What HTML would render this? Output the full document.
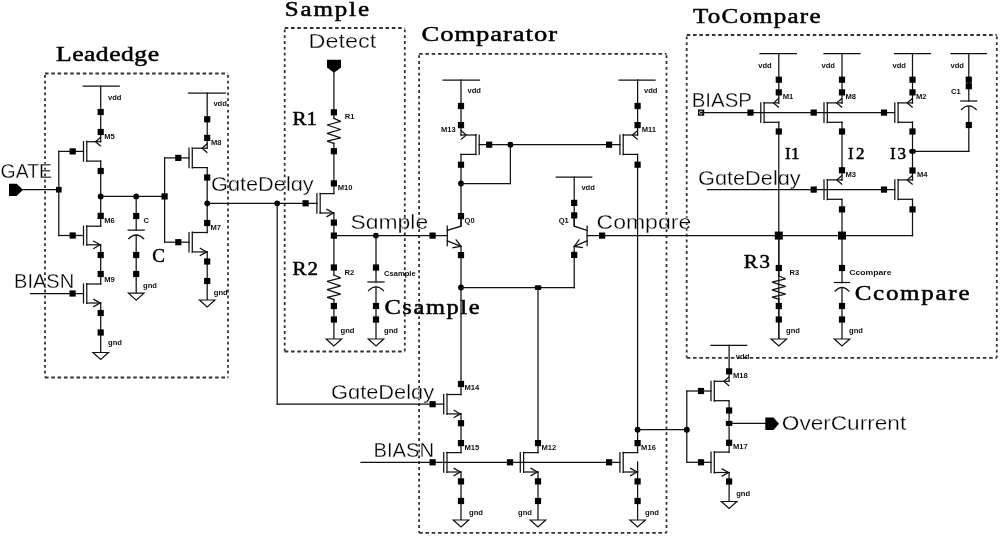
<!DOCTYPE html>
<html><head><meta charset="utf-8"><title>Schematic</title>
<style>
html,body{margin:0;padding:0;background:#fff;}
body{width:1000px;height:539px;overflow:hidden;}
svg{display:block;will-change:transform;}
.w line,.w polyline,.w path{stroke:#111;stroke-width:1.25;fill:none;stroke-linecap:square;stroke-miterlimit:2.5;}
.w .k{fill:#000;stroke:none;}
.w .g{fill:#fff;stroke:#111;stroke-width:1.2;}
.b line{stroke:#333;stroke-width:1.8;}
.b .dh{stroke-dasharray:3.6 2.7;}
.b .dv{stroke-dasharray:2.8 3.0;stroke-dashoffset:-1.5;}
text{font-family:"Liberation Sans",sans-serif;}
.s{fill:#000;stroke:#fff;}
.r{font-family:"Liberation Serif",serif;fill:#000;stroke:#000;stroke-width:0.5;}
.m{font-family:"Liberation Sans",sans-serif;font-weight:bold;fill:#111;}
</style></head>
<body>
<svg width="1000" height="539" viewBox="0 0 1000 539">
<rect x="0" y="0" width="1000" height="539" fill="#fff"/>
<g class="b">
<line class="dh" x1="45" y1="73.5" x2="228" y2="73.5"/>
<line class="dh" x1="45" y1="377.5" x2="228" y2="377.5"/>
<line class="dv" x1="45" y1="73.5" x2="45" y2="377.5"/>
<line class="dv" x1="228" y1="73.5" x2="228" y2="377.5"/>
<line class="dh" x1="284.7" y1="28" x2="404.8" y2="28"/>
<line class="dh" x1="284.7" y1="351.5" x2="404.8" y2="351.5"/>
<line class="dv" x1="284.7" y1="28" x2="284.7" y2="351.5"/>
<line class="dv" x1="404.8" y1="28" x2="404.8" y2="351.5"/>
<line class="dh" x1="419.1" y1="53.8" x2="666.5" y2="53.8"/>
<line class="dh" x1="419.1" y1="532.8" x2="666.5" y2="532.8"/>
<line class="dv" x1="419.1" y1="53.8" x2="419.1" y2="532.8"/>
<line class="dv" x1="666.5" y1="53.8" x2="666.5" y2="532.8"/>
<line class="dh" x1="686.7" y1="35" x2="996.8" y2="35"/>
<line class="dh" x1="686.7" y1="357.8" x2="996.8" y2="357.8"/>
<line class="dv" x1="686.7" y1="35" x2="686.7" y2="357.8"/>
<line class="dv" x1="996.8" y1="35" x2="996.8" y2="357.8"/>
</g>
<g class="t">
<text class="r" transform="translate(56 61) scale(1.22 1)" x="0" y="0" font-size="21" textLength="84.43" lengthAdjust="spacing">Leadedge</text>
<text class="r" transform="translate(284.7 15.5) scale(1.22 1)" x="0" y="0" font-size="20.5" textLength="69.1" lengthAdjust="spacing">Sample</text>
<text class="r" transform="translate(421.5 41.2) scale(1.22 1)" x="0" y="0" font-size="21.8" textLength="111.07" lengthAdjust="spacing">Comparator</text>
<text class="r" transform="translate(693 22.5) scale(1.22 1)" x="0" y="0" font-size="20.5" textLength="104.51" lengthAdjust="spacing">ToCompare</text>
<text class="s" x="0.6" y="177.5" font-size="19.5" textLength="51.4" lengthAdjust="spacingAndGlyphs" stroke-width="0.3">GATE</text>
<text class="s" x="14" y="287.5" font-size="19.5" textLength="60.2" lengthAdjust="spacingAndGlyphs" stroke-width="0.3">BIASN</text>
<text class="m" x="108" y="100" font-size="7.6">vdd</text>
<text class="m" x="104.3" y="138.6" font-size="7.6">M5</text>
<text class="m" x="104.3" y="222.8" font-size="7.6">M6</text>
<text class="m" x="104.3" y="281.5" font-size="7.6">M9</text>
<text class="m" x="108" y="345" font-size="7.6">gnd</text>
<text class="m" x="143.4" y="223" font-size="7.6">C</text>
<text class="m" x="143" y="288" font-size="7.6">gnd</text>
<text class="r" transform="translate(152.3 262) scale(1 1)" x="0" y="0" font-size="19" textLength="11.2" lengthAdjust="spacing">C</text>
<text class="m" x="213.4" y="106.4" font-size="7.6">vdd</text>
<text class="m" x="211" y="145.3" font-size="7.6">M8</text>
<text class="m" x="210.4" y="229.7" font-size="7.6">M7</text>
<text class="m" x="213.8" y="294.5" font-size="7.6">gnd</text>
<text class="s" x="211" y="191" font-size="19.5" textLength="102.7" lengthAdjust="spacingAndGlyphs" stroke-width="0.3">GɑteDelɑy</text>
<text class="s" x="331" y="398.8" font-size="19.5" textLength="103.2" lengthAdjust="spacingAndGlyphs" stroke-width="0.3">GɑteDelɑy</text>
<text class="s" x="308.5" y="48" font-size="19.5" textLength="67.7" lengthAdjust="spacingAndGlyphs" stroke-width="0.3">Detect</text>
<text class="r" transform="translate(292.5 125) scale(1.16 1)" x="0" y="0" font-size="18" textLength="21.12" lengthAdjust="spacing">R1</text>
<text class="m" x="344.7" y="119.3" font-size="7.6">R1</text>
<text class="m" x="337.8" y="190" font-size="7.6">M10</text>
<text class="r" transform="translate(292.5 274.5) scale(1.16 1)" x="0" y="0" font-size="18" textLength="21.98" lengthAdjust="spacing">R2</text>
<text class="m" x="344.5" y="275" font-size="7.6">R2</text>
<text class="m" x="340.5" y="332.5" font-size="7.6">gnd</text>
<text class="s" x="350.5" y="229.2" font-size="19.5" textLength="77.7" lengthAdjust="spacingAndGlyphs" stroke-width="0.3">Sɑmple</text>
<text class="m" x="384" y="275.5" font-size="7.6">Csample</text>
<text class="m" x="384" y="332.5" font-size="7.6">gnd</text>
<text class="r" transform="translate(384.5 314) scale(1.22 1)" x="0" y="0" font-size="20" textLength="77.87" lengthAdjust="spacing">Csample</text>
<text class="m" x="467.5" y="93" font-size="7.6">vdd</text>
<text class="m" x="441" y="132.3" font-size="7.6">M13</text>
<text class="m" x="644" y="93" font-size="7.6">vdd</text>
<text class="m" x="641.7" y="132.3" font-size="7.6">M11</text>
<text class="m" x="464.5" y="223.2" font-size="7.6">Q0</text>
<text class="m" x="581.4" y="190" font-size="7.6">vdd</text>
<text class="m" x="558.7" y="223.2" font-size="7.6">Q1</text>
<text class="s" x="596.5" y="229.2" font-size="19.5" textLength="94.7" lengthAdjust="spacingAndGlyphs" stroke-width="0.3">Compɑre</text>
<text class="m" x="464.5" y="390" font-size="7.6">M14</text>
<text class="s" x="373.5" y="456.5" font-size="19.5" textLength="60.7" lengthAdjust="spacingAndGlyphs" stroke-width="0.3">BIASN</text>
<text class="m" x="464.5" y="450" font-size="7.6">M15</text>
<text class="m" x="469" y="515" font-size="7.6">gnd</text>
<text class="m" x="541.5" y="450" font-size="7.6">M12</text>
<text class="m" x="518" y="515" font-size="7.6">gnd</text>
<text class="m" x="641.1" y="450" font-size="7.6">M16</text>
<text class="m" x="645" y="515" font-size="7.6">gnd</text>
<text class="s" x="691.7" y="106.5" font-size="19.5" textLength="60.3" lengthAdjust="spacingAndGlyphs" stroke-width="0.3">BIASP</text>
<text class="m" x="758.2" y="68" font-size="7.6">vdd</text>
<text class="m" x="782.7" y="99" font-size="7.6">M1</text>
<text class="m" x="821.5" y="68" font-size="7.6">vdd</text>
<text class="m" x="845.5" y="99" font-size="7.6">M8</text>
<text class="m" x="845.5" y="177" font-size="7.6">M3</text>
<text class="m" x="892.5" y="68" font-size="7.6">vdd</text>
<text class="m" x="916" y="99" font-size="7.6">M2</text>
<text class="m" x="917" y="177" font-size="7.6">M4</text>
<text class="m" x="950.5" y="68" font-size="7.6">vdd</text>
<text class="m" x="951" y="94" font-size="7.6">C1</text>
<text class="s" x="698" y="185.2" font-size="19.5" textLength="102.7" lengthAdjust="spacingAndGlyphs" stroke-width="0.3">GɑteDelɑy</text>
<text class="r" transform="translate(785 159) scale(1 1)" x="0" y="0" font-size="17" textLength="14.5" lengthAdjust="spacing">I1</text>
<text class="r" transform="translate(848 159) scale(1 1)" x="0" y="0" font-size="17" textLength="16.5" lengthAdjust="spacing">I2</text>
<text class="r" transform="translate(890 159) scale(1 1)" x="0" y="0" font-size="17" textLength="16" lengthAdjust="spacing">I3</text>
<text class="r" transform="translate(743.8 268) scale(1.16 1)" x="0" y="0" font-size="18" textLength="22.59" lengthAdjust="spacing">R3</text>
<text class="m" x="789.5" y="275" font-size="7.6">R3</text>
<text class="m" x="786" y="333" font-size="7.6">gnd</text>
<text class="m" x="849.3" y="275" font-size="7.6" textLength="42.2" lengthAdjust="spacingAndGlyphs">Ccompare</text>
<text class="m" x="849" y="333" font-size="7.6">gnd</text>
<text class="r" transform="translate(854.7 300.4) scale(1.22 1)" x="0" y="0" font-size="20.5" textLength="94.1" lengthAdjust="spacing">Ccompare</text>
<text class="m" x="735.8" y="359" font-size="7.6">vdd</text>
<text class="m" x="733" y="378" font-size="7.6">M18</text>
<text class="m" x="733" y="449" font-size="7.6">M17</text>
<text class="m" x="736.2" y="496" font-size="7.6">gnd</text>
<text class="s" x="781.8" y="430.2" font-size="19.5" textLength="124.4" lengthAdjust="spacingAndGlyphs" stroke-width="0.3">OverCurrent</text>
</g>
<g class="w">
<polygon class="k" points="9,183.8 16.7,183.8 23,189.7 16.7,195.9 9,195.9"/>
<line x1="23" y1="189.7" x2="58.8" y2="189.7"/>
<rect class="k" x="56" y="186.9" width="5.6" height="5.6"/>
<line x1="58.8" y1="151.4" x2="58.8" y2="235.5"/>
<line x1="58.8" y1="151.4" x2="83.5" y2="151.4"/>
<rect class="k" x="69.6" y="148.3" width="6.2" height="6.2"/>
<line x1="58.8" y1="235.5" x2="83.5" y2="235.5"/>
<rect class="k" x="69.6" y="232.4" width="6.2" height="6.2"/>
<line x1="30.5" y1="293.5" x2="83.5" y2="293.5"/>
<rect class="k" x="69.5" y="290.4" width="6.2" height="6.2"/>
<line x1="83.2" y1="86.2" x2="119.2" y2="86.2"/>
<line x1="100.7" y1="86.2" x2="100.7" y2="141.7"/>
<rect class="k" x="97.6" y="108.9" width="6.2" height="6.2"/>
<rect class="k" x="97.6" y="128.9" width="6.2" height="6.2"/>
<line x1="83.5" y1="141.7" x2="83.5" y2="161.1"/>
<line x1="86.8" y1="141.4" x2="86.8" y2="161.4"/>
<line x1="86.8" y1="141.7" x2="100.7" y2="141.7"/>
<line x1="86.8" y1="161.1" x2="100.7" y2="161.1"/>
<polyline points="100.4,137.5 95.5,141.7 100.4,145.9"/>
<line x1="100.7" y1="161.1" x2="100.7" y2="226.2"/>
<rect class="k" x="97.6" y="167.9" width="6.2" height="6.2"/>
<circle class="k" cx="100.7" cy="196.4" r="2.9"/>
<rect class="k" x="97.6" y="212.8" width="6.2" height="6.2"/>
<line x1="83.5" y1="226.2" x2="83.5" y2="244.8"/>
<line x1="86.8" y1="225.9" x2="86.8" y2="245.1"/>
<line x1="86.8" y1="226.2" x2="100.7" y2="226.2"/>
<line x1="86.8" y1="244.8" x2="100.7" y2="244.8"/>
<polyline points="93.8,241.2 100.1,244.8 93.8,248.4"/>
<line x1="100.7" y1="244.8" x2="100.7" y2="284"/>
<rect class="k" x="97.6" y="251.9" width="6.2" height="6.2"/>
<rect class="k" x="97.6" y="270.9" width="6.2" height="6.2"/>
<line x1="83.5" y1="284" x2="83.5" y2="303"/>
<line x1="86.8" y1="283.7" x2="86.8" y2="303.3"/>
<line x1="86.8" y1="284" x2="100.7" y2="284"/>
<line x1="86.8" y1="303" x2="100.7" y2="303"/>
<polyline points="93.8,299.4 100.1,303 93.8,306.6"/>
<line x1="100.7" y1="303" x2="100.7" y2="352.5"/>
<rect class="k" x="97.6" y="309.9" width="6.2" height="6.2"/>
<rect class="k" x="97.6" y="329.4" width="6.2" height="6.2"/>
<polygon class="g" points="92.95,352.5 108.45,352.5 100.7,359.5"/>
<line x1="100.7" y1="196.4" x2="164.6" y2="196.4"/>
<circle class="k" cx="136.2" cy="196.4" r="2.9"/>
<rect class="k" x="161.5" y="193.3" width="6.2" height="6.2"/>
<line x1="136.2" y1="196.4" x2="136.2" y2="230.1"/>
<rect class="k" x="133.1" y="212.9" width="6.2" height="6.2"/>
<line x1="128.2" y1="230.1" x2="144.2" y2="230.1"/>
<path d="M128.7 238.7 Q136.2 231.3 143.7 238.7"/>
<line x1="136.2" y1="235.3" x2="136.2" y2="293.2"/>
<rect class="k" x="133.1" y="251.9" width="6.2" height="6.2"/>
<rect class="k" x="133.1" y="270.9" width="6.2" height="6.2"/>
<polygon class="g" points="128.45,293.2 143.95,293.2 136.2,300.2"/>
<line x1="164.6" y1="157.9" x2="164.6" y2="242.2"/>
<line x1="164.6" y1="157.9" x2="189" y2="157.9"/>
<rect class="k" x="175.2" y="154.8" width="6.2" height="6.2"/>
<line x1="164.6" y1="242.2" x2="189" y2="242.2"/>
<rect class="k" x="175.2" y="239.1" width="6.2" height="6.2"/>
<line x1="188.5" y1="93.1" x2="225.3" y2="93.1"/>
<line x1="207.2" y1="93.1" x2="207.2" y2="148.2"/>
<rect class="k" x="204.1" y="116.2" width="6.2" height="6.2"/>
<rect class="k" x="204.1" y="134.8" width="6.2" height="6.2"/>
<line x1="189" y1="148.2" x2="189" y2="167.6"/>
<line x1="192.3" y1="147.9" x2="192.3" y2="167.9"/>
<line x1="192.3" y1="148.2" x2="207.2" y2="148.2"/>
<line x1="192.3" y1="167.6" x2="207.2" y2="167.6"/>
<polyline points="206.9,144 202,148.2 206.9,152.4"/>
<line x1="207.2" y1="167.6" x2="207.2" y2="232.5"/>
<rect class="k" x="204.1" y="174.4" width="6.2" height="6.2"/>
<circle class="k" cx="207.2" cy="203.3" r="2.9"/>
<rect class="k" x="204.1" y="219.9" width="6.2" height="6.2"/>
<line x1="189" y1="232.5" x2="189" y2="251.9"/>
<line x1="192.3" y1="232.2" x2="192.3" y2="252.2"/>
<line x1="192.3" y1="232.5" x2="207.2" y2="232.5"/>
<line x1="192.3" y1="251.9" x2="207.2" y2="251.9"/>
<polyline points="200.3,248.3 206.6,251.9 200.3,255.5"/>
<line x1="207.2" y1="251.9" x2="207.2" y2="300"/>
<rect class="k" x="204.1" y="258.4" width="6.2" height="6.2"/>
<rect class="k" x="204.1" y="277.9" width="6.2" height="6.2"/>
<polygon class="g" points="199.45,300 214.95,300 207.2,307"/>
<line x1="207.2" y1="203.3" x2="316.9" y2="203.3"/>
<circle class="k" cx="277.2" cy="203.3" r="2.9"/>
<rect class="k" x="302.5" y="200.2" width="6.2" height="6.2"/>
<line x1="277.2" y1="203.3" x2="277.2" y2="404.2"/>
<line x1="277.2" y1="404.2" x2="443.7" y2="404.2"/>
<rect class="k" x="429.5" y="401.1" width="6.2" height="6.2"/>
<polygon class="k" points="327,59.7 341,59.7 341,67.5 334,72.7 327,67.5"/>
<line x1="333.9" y1="72.7" x2="333.9" y2="118.4"/>
<rect class="k" x="330.8" y="109.2" width="6.2" height="6.2"/>
<polyline points="333.9,118.4 340.7,121.4 327.1,125 340.7,129.5 327.1,133.4 340.7,137.9 327.1,141.2 333.9,143.4"/>
<line x1="333.9" y1="143.4" x2="333.9" y2="193.6"/>
<rect class="k" x="330.8" y="148.1" width="6.2" height="6.2"/>
<rect class="k" x="330.8" y="180.3" width="6.2" height="6.2"/>
<line x1="316.9" y1="193.6" x2="316.9" y2="213"/>
<line x1="320.2" y1="193.3" x2="320.2" y2="213.3"/>
<line x1="320.2" y1="193.6" x2="333.9" y2="193.6"/>
<line x1="320.2" y1="213" x2="333.9" y2="213"/>
<polyline points="327,209.4 333.3,213 327,216.6"/>
<line x1="333.9" y1="213" x2="333.9" y2="275"/>
<rect class="k" x="330.8" y="219.5" width="6.2" height="6.2"/>
<rect class="k" x="330.8" y="232.5" width="6.2" height="6.2"/>
<rect class="k" x="330.8" y="264.4" width="6.2" height="6.2"/>
<polyline points="333.9,275 340.7,277.94 327.1,281.47 340.7,285.88 327.1,289.7 340.7,294.11 327.1,297.34 333.9,299.5"/>
<line x1="333.9" y1="299.5" x2="333.9" y2="339"/>
<rect class="k" x="330.8" y="302.9" width="6.2" height="6.2"/>
<rect class="k" x="330.8" y="316.4" width="6.2" height="6.2"/>
<polygon class="g" points="326.15,339 341.65,339 333.9,346"/>
<line x1="333.9" y1="235.6" x2="447.3" y2="235.6"/>
<circle class="k" cx="375.9" cy="235.6" r="2.9"/>
<rect class="k" x="429.5" y="232.5" width="6.2" height="6.2"/>
<line x1="376" y1="235.6" x2="376" y2="282"/>
<rect class="k" x="372.9" y="264.4" width="6.2" height="6.2"/>
<line x1="368" y1="282" x2="384" y2="282"/>
<path d="M368.5 290.6 Q376 283.2 383.5 290.6"/>
<line x1="376" y1="287.2" x2="376" y2="339"/>
<rect class="k" x="372.9" y="302.9" width="6.2" height="6.2"/>
<rect class="k" x="372.9" y="316.4" width="6.2" height="6.2"/>
<polygon class="g" points="368.25,339 383.75,339 376,346"/>
<line x1="443" y1="80" x2="479.5" y2="80"/>
<line x1="461" y1="80" x2="461" y2="135"/>
<rect class="k" x="457.9" y="102.9" width="6.2" height="6.2"/>
<rect class="k" x="457.9" y="122" width="6.2" height="6.2"/>
<line x1="479.2" y1="135" x2="479.2" y2="154.4"/>
<line x1="475.9" y1="134.7" x2="475.9" y2="154.7"/>
<line x1="475.9" y1="135" x2="461" y2="135"/>
<line x1="475.9" y1="154.4" x2="461" y2="154.4"/>
<polyline points="461.3,130.8 466.2,135 461.3,139.2"/>
<line x1="461" y1="154.4" x2="461" y2="226"/>
<rect class="k" x="457.9" y="161.6" width="6.2" height="6.2"/>
<circle class="k" cx="461" cy="183.5" r="2.9"/>
<line x1="461" y1="183.5" x2="510.4" y2="183.5"/>
<line x1="510.4" y1="144.7" x2="510.4" y2="183.5"/>
<line x1="479.2" y1="144.7" x2="619.9" y2="144.7"/>
<rect class="k" x="486.1" y="141.6" width="6.2" height="6.2"/>
<circle class="k" cx="510.4" cy="144.7" r="2.9"/>
<rect class="k" x="606" y="141.6" width="6.2" height="6.2"/>
<line x1="619" y1="80" x2="655" y2="80"/>
<line x1="637.6" y1="80" x2="637.6" y2="135"/>
<rect class="k" x="634.5" y="102.9" width="6.2" height="6.2"/>
<rect class="k" x="634.5" y="122" width="6.2" height="6.2"/>
<line x1="619.9" y1="135" x2="619.9" y2="154.4"/>
<line x1="623.2" y1="134.7" x2="623.2" y2="154.7"/>
<line x1="623.2" y1="135" x2="637.6" y2="135"/>
<line x1="623.2" y1="154.4" x2="637.6" y2="154.4"/>
<polyline points="637.3,130.8 632.4,135 637.3,139.2"/>
<line x1="637.6" y1="154.4" x2="637.6" y2="452.5"/>
<rect class="k" x="634.5" y="161.6" width="6.2" height="6.2"/>
<rect class="k" x="457.9" y="213" width="6.2" height="6.2"/>
<line x1="447.3" y1="226" x2="447.3" y2="245.6"/>
<polyline points="447.3,230.4 461,226.2 461,216.6"/>
<polyline points="447.3,240.9 461,246.4"/>
<polyline points="452.94,247.69 461,246.4 456.07,239.89"/>
<line x1="461" y1="246.4" x2="461" y2="394.5"/>
<rect class="k" x="457.9" y="252" width="6.2" height="6.2"/>
<circle class="k" cx="461" cy="287.5" r="2.9"/>
<line x1="556.3" y1="177" x2="591.8" y2="177"/>
<line x1="574.2" y1="177" x2="574.2" y2="226"/>
<rect class="k" x="571.1" y="199.8" width="6.2" height="6.2"/>
<rect class="k" x="571.1" y="212.3" width="6.2" height="6.2"/>
<line x1="587.1" y1="226" x2="587.1" y2="245.6"/>
<polyline points="587.1,230.4 574.2,226.2 574.2,216.6"/>
<polyline points="587.1,240.9 574.2,246.4"/>
<polyline points="578.99,239.79 574.2,246.4 582.29,247.52"/>
<line x1="574.2" y1="246.4" x2="574.2" y2="287.5"/>
<rect class="k" x="571.1" y="251.8" width="6.2" height="6.2"/>
<line x1="461" y1="287.5" x2="574.2" y2="287.5"/>
<rect class="k" x="534.9" y="285.2" width="6.3" height="4.8" rx="1"/>
<line x1="538" y1="287.5" x2="538" y2="452.5"/>
<line x1="587.1" y1="235.6" x2="912.5" y2="235.6"/>
<rect class="k" x="599" y="232.5" width="6.2" height="6.2"/>
<rect class="k" x="457.9" y="380.9" width="6.2" height="6.2"/>
<line x1="443.7" y1="394.5" x2="443.7" y2="413.9"/>
<line x1="447" y1="394.2" x2="447" y2="414.2"/>
<line x1="447" y1="394.5" x2="461" y2="394.5"/>
<line x1="447" y1="413.9" x2="461" y2="413.9"/>
<polyline points="454.1,410.3 460.4,413.9 454.1,417.5"/>
<line x1="461" y1="413.9" x2="461" y2="452.5"/>
<rect class="k" x="457.9" y="420.1" width="6.2" height="6.2"/>
<line x1="361" y1="462.3" x2="619.9" y2="462.3"/>
<rect class="k" x="429.5" y="459.2" width="6.2" height="6.2"/>
<rect class="k" x="506.9" y="459.2" width="6.2" height="6.2"/>
<rect class="k" x="606" y="459.2" width="6.2" height="6.2"/>
<rect class="k" x="457.9" y="440" width="6.2" height="6.2"/>
<line x1="443.7" y1="452.6" x2="443.7" y2="472"/>
<line x1="447" y1="452.3" x2="447" y2="472.3"/>
<line x1="447" y1="452.6" x2="461" y2="452.6"/>
<line x1="447" y1="472" x2="461" y2="472"/>
<polyline points="454.1,468.4 460.4,472 454.1,475.6"/>
<line x1="461" y1="472" x2="461" y2="520"/>
<rect class="k" x="457.9" y="478.3" width="6.2" height="6.2"/>
<rect class="k" x="457.9" y="497.9" width="6.2" height="6.2"/>
<polygon class="g" points="453.25,520 468.75,520 461,527"/>
<rect class="k" x="534.9" y="440" width="6.2" height="6.2"/>
<line x1="520.3" y1="452.6" x2="520.3" y2="472"/>
<line x1="523.6" y1="452.3" x2="523.6" y2="472.3"/>
<line x1="523.6" y1="452.6" x2="538" y2="452.6"/>
<line x1="523.6" y1="472" x2="538" y2="472"/>
<polyline points="531.1,468.4 537.4,472 531.1,475.6"/>
<line x1="538" y1="472" x2="538" y2="520"/>
<rect class="k" x="534.9" y="478.3" width="6.2" height="6.2"/>
<rect class="k" x="534.9" y="497.9" width="6.2" height="6.2"/>
<polygon class="g" points="530.25,520 545.75,520 538,527"/>
<rect class="k" x="634.5" y="440" width="6.2" height="6.2"/>
<line x1="619.9" y1="452.6" x2="619.9" y2="472"/>
<line x1="623.2" y1="452.3" x2="623.2" y2="472.3"/>
<line x1="623.2" y1="452.6" x2="637.6" y2="452.6"/>
<line x1="623.2" y1="472" x2="637.6" y2="472"/>
<polyline points="630.7,468.4 637,472 630.7,475.6"/>
<line x1="637.6" y1="472" x2="637.6" y2="520"/>
<line x1="637.6" y1="462" x2="637.6" y2="472"/>
<rect class="k" x="634.5" y="478.3" width="6.2" height="6.2"/>
<rect class="k" x="634.5" y="497.9" width="6.2" height="6.2"/>
<polygon class="g" points="629.85,520 645.35,520 637.6,527"/>
<circle class="k" cx="637.6" cy="429.7" r="2.9"/>
<line x1="637.6" y1="429.7" x2="686.8" y2="429.7"/>
<rect class="k" x="698" y="109.5" width="6.2" height="6.2"/>
<circle cx="700.9" cy="112.6" r="1.5" fill="none" stroke="#fff" stroke-width="0.9"/>
<line x1="701" y1="112.6" x2="894.5" y2="112.6"/>
<rect class="k" x="747.4" y="109.5" width="6.2" height="6.2"/>
<rect class="k" x="810.6" y="109.5" width="6.2" height="6.2"/>
<rect class="k" x="880.9" y="109.5" width="6.2" height="6.2"/>
<line x1="760" y1="53.6" x2="796.4" y2="53.6"/>
<line x1="778.8" y1="53.6" x2="778.8" y2="103"/>
<rect class="k" x="775.7" y="76.6" width="6.2" height="6.2"/>
<rect class="k" x="775.7" y="89.3" width="6.2" height="6.2"/>
<line x1="760.8" y1="102.9" x2="760.8" y2="122.3"/>
<line x1="764.1" y1="102.6" x2="764.1" y2="122.6"/>
<line x1="764.1" y1="102.9" x2="778.8" y2="102.9"/>
<line x1="764.1" y1="122.3" x2="778.8" y2="122.3"/>
<polyline points="778.5,98.7 773.6,102.9 778.5,107.1"/>
<line x1="778.8" y1="122" x2="778.8" y2="339"/>
<rect class="k" x="775.7" y="128.4" width="6.2" height="6.2"/>
<line x1="824" y1="53.6" x2="860" y2="53.6"/>
<line x1="842" y1="53.6" x2="842" y2="103"/>
<rect class="k" x="838.9" y="76.6" width="6.2" height="6.2"/>
<rect class="k" x="838.9" y="89.3" width="6.2" height="6.2"/>
<line x1="824" y1="102.9" x2="824" y2="122.3"/>
<line x1="827.3" y1="102.6" x2="827.3" y2="122.6"/>
<line x1="827.3" y1="102.9" x2="842" y2="102.9"/>
<line x1="827.3" y1="122.3" x2="842" y2="122.3"/>
<polyline points="841.7,98.7 836.8,102.9 841.7,107.1"/>
<line x1="842" y1="122" x2="842" y2="180"/>
<rect class="k" x="838.9" y="128.4" width="6.2" height="6.2"/>
<rect class="k" x="838.9" y="167.2" width="6.2" height="6.2"/>
<line x1="824" y1="179.9" x2="824" y2="199.3"/>
<line x1="827.3" y1="179.6" x2="827.3" y2="199.6"/>
<line x1="827.3" y1="179.9" x2="842" y2="179.9"/>
<line x1="827.3" y1="199.3" x2="842" y2="199.3"/>
<polyline points="841.7,175.7 836.8,179.9 841.7,184.1"/>
<line x1="842" y1="199.3" x2="842" y2="282.5"/>
<rect class="k" x="838.9" y="206.3" width="6.2" height="6.2"/>
<line x1="894.5" y1="53.6" x2="930.5" y2="53.6"/>
<line x1="912.5" y1="53.6" x2="912.5" y2="103"/>
<rect class="k" x="909.4" y="76.6" width="6.2" height="6.2"/>
<rect class="k" x="909.4" y="89.3" width="6.2" height="6.2"/>
<line x1="894.8" y1="102.9" x2="894.8" y2="122.3"/>
<line x1="898.1" y1="102.6" x2="898.1" y2="122.6"/>
<line x1="898.1" y1="102.9" x2="912.5" y2="102.9"/>
<line x1="898.1" y1="122.3" x2="912.5" y2="122.3"/>
<polyline points="912.2,98.7 907.3,102.9 912.2,107.1"/>
<line x1="912.5" y1="122" x2="912.5" y2="180"/>
<rect class="k" x="909.4" y="128.4" width="6.2" height="6.2"/>
<rect class="k" x="909.2" y="148.9" width="6.6" height="4.8" rx="1.8"/>
<rect class="k" x="909.4" y="167.4" width="6.2" height="6.2"/>
<line x1="894.8" y1="179.9" x2="894.8" y2="199.3"/>
<line x1="898.1" y1="179.6" x2="898.1" y2="199.6"/>
<line x1="898.1" y1="179.9" x2="912.5" y2="179.9"/>
<line x1="898.1" y1="199.3" x2="912.5" y2="199.3"/>
<polyline points="912.2,175.7 907.3,179.9 912.2,184.1"/>
<line x1="912.5" y1="199.3" x2="912.5" y2="235.6"/>
<rect class="k" x="909.4" y="206.3" width="6.2" height="6.2"/>
<line x1="951" y1="53.6" x2="986.5" y2="53.6"/>
<line x1="968.8" y1="53.6" x2="968.8" y2="101"/>
<rect class="k" x="965.7" y="76.6" width="6.2" height="6.2"/>
<rect class="k" x="965.7" y="83.1" width="6.2" height="6.2"/>
<line x1="960.8" y1="101" x2="976.8" y2="101"/>
<path d="M961.3 109.6 Q968.8 102.2 976.3 109.6"/>
<line x1="968.8" y1="106.5" x2="968.8" y2="151.3"/>
<rect class="k" x="965.7" y="121.9" width="6.2" height="6.2"/>
<line x1="912.5" y1="151.3" x2="968.8" y2="151.3"/>
<line x1="707.5" y1="189.6" x2="894.8" y2="189.6"/>
<rect class="k" x="810.6" y="186.5" width="6.2" height="6.2"/>
<rect class="k" x="880.9" y="186.5" width="6.2" height="6.2"/>
<rect class="k" x="774.8" y="231.6" width="8" height="8"/>
<rect class="k" x="838" y="231.6" width="8" height="8"/>
<rect class="k" x="775.7" y="264.9" width="6.2" height="6.2"/>
<line x1="778.8" y1="235.6" x2="778.8" y2="276"/>
<polyline points="778.8,276 785.6,278.78 772,282.12 785.6,286.3 772,289.92 785.6,294.1 772,297.16 778.8,299.2"/>
<line x1="778.8" y1="299.2" x2="778.8" y2="339"/>
<rect class="k" x="775.7" y="302.9" width="6.2" height="6.2"/>
<rect class="k" x="775.7" y="316.4" width="6.2" height="6.2"/>
<polygon class="g" points="771.05,339 786.55,339 778.8,346"/>
<rect class="k" x="838.9" y="264.9" width="6.2" height="6.2"/>
<line x1="834.5" y1="282.5" x2="849.5" y2="282.5"/>
<path d="M835 291.1 Q842 283.7 849 291.1"/>
<line x1="842" y1="288" x2="842" y2="339"/>
<rect class="k" x="838.9" y="302.9" width="6.2" height="6.2"/>
<rect class="k" x="838.9" y="316.4" width="6.2" height="6.2"/>
<polygon class="g" points="834.25,339 849.75,339 842,346"/>
<line x1="711" y1="345.4" x2="746.6" y2="345.4"/>
<line x1="729.1" y1="345.4" x2="729.1" y2="381"/>
<rect class="k" x="726" y="368.3" width="6.2" height="6.2"/>
<line x1="711" y1="381.3" x2="711" y2="400.7"/>
<line x1="714.3" y1="381" x2="714.3" y2="401"/>
<line x1="714.3" y1="381.3" x2="729.1" y2="381.3"/>
<line x1="714.3" y1="400.7" x2="729.1" y2="400.7"/>
<polyline points="728.8,377.1 723.9,381.3 728.8,385.5"/>
<line x1="729.1" y1="401" x2="729.1" y2="452"/>
<rect class="k" x="726" y="407.4" width="6.2" height="6.2"/>
<rect class="k" x="725.85" y="420.9" width="6.5" height="5"/>
<rect class="k" x="726" y="439.7" width="6.2" height="6.2"/>
<line x1="711" y1="452.1" x2="711" y2="472.5"/>
<line x1="714.3" y1="451.8" x2="714.3" y2="472.8"/>
<line x1="714.3" y1="452.1" x2="729.1" y2="452.1"/>
<line x1="714.3" y1="472.5" x2="729.1" y2="472.5"/>
<polyline points="722.2,468.9 728.5,472.5 722.2,476.1"/>
<line x1="729.1" y1="472.5" x2="729.1" y2="501.5"/>
<rect class="k" x="726" y="478.4" width="6.2" height="6.2"/>
<polygon class="g" points="721.35,501.5 736.85,501.5 729.1,508.5"/>
<line x1="686.8" y1="391" x2="686.8" y2="462.3"/>
<line x1="686.8" y1="391" x2="711" y2="391"/>
<rect class="k" x="697.9" y="387.9" width="6.2" height="6.2"/>
<line x1="686.8" y1="462.3" x2="711" y2="462.3"/>
<rect class="k" x="697.9" y="459.2" width="6.2" height="6.2"/>
<circle class="k" cx="686.8" cy="429.7" r="3"/>
<line x1="729.1" y1="423.4" x2="765.3" y2="423.4"/>
<polygon class="k" points="765.3,417.6 773.5,417.6 779,423.7 773.5,429.9 765.3,429.9"/>
</g>
</svg>
</body></html>
